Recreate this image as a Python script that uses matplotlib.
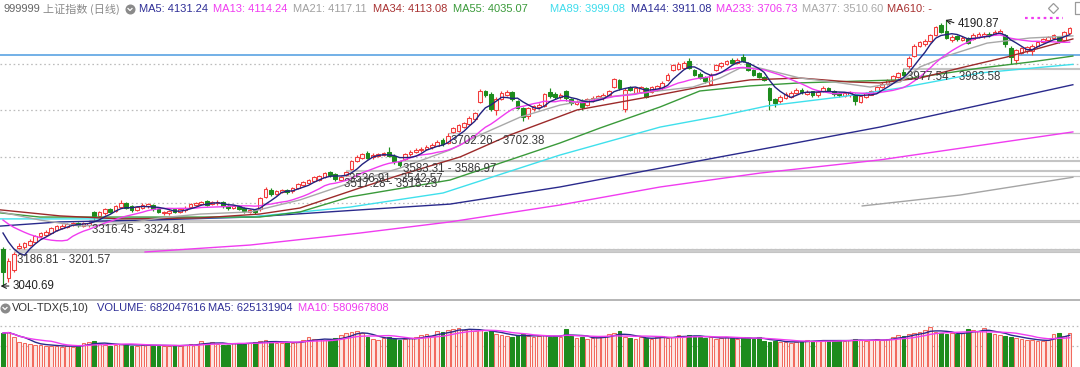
import matplotlib
matplotlib.use("Agg")
import matplotlib.pyplot as plt
from matplotlib.lines import Line2D
import numpy as np
import pandas as pd

plt.rcParams['font.family'] = ['Liberation Sans', 'Noto Sans CJK SC', 'DejaVu Sans']

# ---------------- data ----------------
opens = [
    3200, 3075, 3110, 3205, 3208, 3218, 3232, 3255, 3262, 3272,
    3285, 3292, 3298, 3305, 3312, 3300, 3305, 3360, 3345, 3355,
    3372, 3365, 3382, 3398, 3385, 3370, 3380, 3388, 3392, 3372,
    3355, 3358, 3372, 3362, 3368, 3382, 3392, 3395, 3408, 3395,
    3398, 3405, 3388, 3378, 3385, 3378, 3362, 3370, 3372, 3425,
    3458, 3440, 3448, 3458, 3450, 3465, 3478, 3485, 3495, 3500,
    3512, 3535, 3525, 3500, 3522, 3548, 3580, 3596, 3615, 3598,
    3605, 3608, 3620, 3605, 3580, 3590, 3610, 3620, 3628, 3632,
    3640, 3648, 3672, 3660, 3705, 3712, 3730, 3740, 3765, 3835,
    3882, 3872, 3800, 3850, 3868, 3880, 3840, 3812, 3775, 3805,
    3815, 3820, 3880, 3870, 3858, 3885, 3848, 3828, 3842, 3825,
    3840, 3850, 3852, 3865, 3900, 3930, 3805, 3900, 3875, 3880,
    3895, 3880, 3888, 3895, 3930, 3975, 3980, 3985, 4015, 3975,
    3958, 3945, 3915, 3975, 3990, 4000, 4020, 4005, 4030, 4005,
    3975, 3960, 3945, 3895, 3848, 3840, 3855, 3860, 3875, 3890,
    3870, 3882, 3865, 3882, 3895, 3885, 3875, 3862, 3865, 3872,
    3835, 3860, 3868, 3885, 3902, 3915, 3930, 3945, 3968, 3990,
    4035, 4080, 4085, 4100, 4125, 4168, 4145, 4105, 4120, 4105,
    4112, 4110, 4118, 4120, 4132, 4130, 4135, 4125, 4070, 4020,
    4050, 4058, 4055, 4078, 4095, 4105, 4112, 4118, 4105, 4135,
]
closes = [
    3100, 3150, 3180, 3215, 3225, 3235, 3258, 3270, 3275, 3290,
    3300, 3302, 3310, 3315, 3305, 3312, 3314, 3345, 3360, 3372,
    3362, 3385, 3398, 3380, 3370, 3383, 3392, 3395, 3372, 3362,
    3362, 3365, 3362, 3372, 3380, 3395, 3400, 3405, 3392, 3402,
    3405, 3385, 3378, 3385, 3375, 3365, 3370, 3360, 3420, 3460,
    3440, 3452, 3455, 3448, 3465, 3480, 3490, 3498, 3512, 3518,
    3528, 3520, 3505, 3512, 3532, 3580, 3600, 3610, 3595, 3608,
    3612, 3618, 3605, 3580, 3565, 3612, 3622, 3630, 3635, 3642,
    3652, 3665, 3655, 3690, 3725, 3735, 3745, 3768, 3790, 3885,
    3868, 3805, 3850, 3875, 3880, 3848, 3812, 3770, 3810, 3820,
    3825, 3870, 3862, 3858, 3868, 3855, 3832, 3838, 3815, 3848,
    3855, 3862, 3868, 3885, 3935, 3895, 3890, 3890, 3895, 3900,
    3860, 3900, 3905, 3920, 3955, 3995, 4000, 4005, 3985, 3955,
    3940, 3925, 3955, 3995, 4005, 4012, 4005, 4018, 4015, 3975,
    3955, 3945, 3932, 3845, 3830, 3860, 3870, 3875, 3890, 3880,
    3880, 3868, 3880, 3898, 3885, 3870, 3865, 3875, 3878, 3840,
    3862, 3875, 3882, 3900, 3915, 3930, 3948, 3960, 3955, 4025,
    4080, 4095, 4100, 4125, 4160, 4140, 4115, 4118, 4108, 4115,
    4090, 4125, 4130, 4130, 4125, 4140, 4145, 4085, 4030, 4060,
    4068, 4072, 4080, 4095, 4110, 4118, 4125, 4098, 4140, 4155,
]
highs = [
    3210, 3160, 3186.81, 3228, 3232, 3242, 3262, 3276, 3282, 3295,
    3306, 3310, 3315, 3316, 3316, 3316, 3316.45, 3366, 3365, 3378,
    3380, 3390, 3412, 3405, 3390, 3388, 3398, 3400, 3396, 3378,
    3366, 3370, 3378, 3378, 3386, 3400, 3405, 3410, 3412, 3410,
    3412, 3408, 3392, 3390, 3390, 3382, 3375, 3375, 3425, 3468,
    3465, 3458, 3462, 3462, 3470, 3485, 3495, 3505, 3518, 3522,
    3535, 3540, 3530, 3517.28, 3536.91, 3585, 3606, 3618, 3625, 3614,
    3618, 3622, 3640, 3610, 3583.31, 3616, 3628, 3638, 3642, 3650,
    3658, 3672, 3680, 3702.26, 3730, 3740, 3752, 3775, 3795, 3892,
    3890, 3880, 3858, 3882, 3888, 3885, 3845, 3815, 3815, 3825,
    3832, 3875, 3895, 3878, 3875, 3890, 3852, 3845, 3848, 3855,
    3862, 3868, 3875, 3890, 3940, 3935, 3895, 3905, 3900, 3905,
    3902, 3905, 3912, 3925, 3960, 4002, 4008, 4012, 4025, 3980,
    3965, 3950, 3960, 4000, 4010, 4018, 4025, 4025, 4045, 4010,
    3980, 3965, 3950, 3900, 3852, 3865, 3878, 3882, 3895, 3895,
    3888, 3886, 3885, 3905, 3900, 3890, 3880, 3880, 3882, 3875,
    3868, 3880, 3888, 3905, 3922, 3935, 3955, 3968, 3977.54, 4035,
    4085, 4100, 4108, 4130, 4165, 4180, 4190.87, 4125, 4125, 4120,
    4118, 4135, 4138, 4138, 4138, 4148, 4150, 4130, 4078, 4066,
    4072, 4078, 4085, 4100, 4115, 4122, 4130, 4122, 4145, 4162,
]
lows = [
    3040.69, 3060, 3100, 3201.57, 3203, 3212, 3228, 3250, 3258, 3268,
    3280, 3288, 3292, 3300, 3298, 3295, 3298, 3324.81, 3338, 3350,
    3355, 3360, 3378, 3375, 3362, 3366, 3375, 3380, 3366, 3355,
    3348, 3350, 3355, 3358, 3362, 3378, 3388, 3390, 3385, 3390,
    3392, 3378, 3370, 3372, 3368, 3358, 3355, 3352, 3365, 3420,
    3432, 3435, 3442, 3440, 3445, 3460, 3472, 3480, 3490, 3495,
    3508, 3512, 3495, 3495, 3518.23, 3542.57, 3575, 3590, 3590, 3592,
    3600, 3602, 3600, 3570, 3555, 3586.97, 3605, 3615, 3622, 3628,
    3635, 3645, 3648, 3655, 3702.38, 3708, 3725, 3735, 3758, 3830,
    3860, 3798, 3780, 3845, 3862, 3842, 3805, 3755, 3765, 3798,
    3808, 3815, 3855, 3850, 3850, 3840, 3825, 3822, 3800, 3820,
    3835, 3845, 3845, 3860, 3895, 3890, 3795, 3882, 3870, 3875,
    3855, 3875, 3882, 3890, 3925, 3970, 3975, 3980, 3980, 3950,
    3935, 3918, 3910, 3970, 3985, 3995, 4000, 4000, 4010, 3970,
    3950, 3940, 3925, 3800, 3815, 3832, 3850, 3855, 3870, 3872,
    3865, 3860, 3860, 3878, 3880, 3862, 3860, 3858, 3860, 3825,
    3830, 3855, 3865, 3880, 3898, 3910, 3925, 3940, 3950, 3983.58,
    4030, 4075, 4080, 4095, 4120, 4135, 4110, 4095, 4100, 4098,
    4085, 4105, 4112, 4115, 4118, 4125, 4130, 4075, 4000, 4005,
    4042, 4050, 4040, 4072, 4090, 4100, 4108, 4092, 4100, 4130,
]
# closes of the 12 sessions before the visible window (for MA5 / MA13)
prior_closes = [3370, 3365, 3360, 3362, 3358, 3355, 3360, 3358, 3340, 3330, 3310, 3270]

volume_m = [
    680, 700, 600, 500, 480, 460, 450, 440, 420, 430,
    420, 410, 420, 410, 420, 480, 500, 520, 460, 440,
    430, 450, 470, 440, 430, 420, 440, 450, 430, 420,
    430, 420, 440, 430, 450, 460, 440, 520, 480, 500,
    470, 440, 450, 480, 490, 470, 480, 500, 520, 540,
    500, 490, 480, 500, 490, 500, 540, 600, 560, 560,
    540, 520, 580, 640, 680, 700, 720, 680, 600, 560,
    540, 580, 600, 560, 540, 560, 580, 600, 640, 660,
    620, 720, 700, 740, 760, 780, 740, 760, 720, 740,
    700, 720, 660, 640, 620, 600, 640, 660, 620, 600,
    620, 640, 610, 620, 600, 760, 620, 580, 600, 560,
    580, 600, 620, 660, 680, 720, 600, 580, 560, 600,
    580, 560, 600, 620, 580, 600, 640, 620, 640, 620,
    600, 580, 600, 560, 580, 600, 580, 560, 600, 580,
    560, 600, 520, 500, 520, 510, 500, 490, 500, 520,
    540, 520, 530, 540, 520, 530, 540, 520, 540, 560,
    540, 520, 540, 560, 540, 560, 600, 640, 620, 660,
    680, 700, 740, 800, 700, 680, 660, 680, 660, 680,
    760, 740, 720, 780, 680, 660, 640, 620, 600, 580,
    560, 540, 540, 520, 530, 540, 660, 680, 620, 682,
]

# long moving averages (bar index, value)
ma21_x = [-0.5, 6.9, 14.4, 21.8, 29.3, 36.8, 46.1, 55.4, 64.7, 74.1, 83.4, 89.0, 96.5, 103.9, 111.4,
          118.8, 128.7, 133.8, 137.5, 141.2, 148.7, 154.9, 161.8, 167.4, 171.1, 176.7, 183.6, 191.6, 199.6]
ma21_v = [3361, 3326, 3300, 3309, 3335, 3352, 3361, 3413, 3486, 3551, 3629, 3694, 3771, 3823, 3854,
          3875, 3901, 3940, 3983, 3983, 3940, 3923, 3901, 3923, 3988, 4040, 4091, 4113, 4122]
ma34_x = [-0.5, 10.6, 21.8, 36.8, 47.9, 55.4, 66.6, 74.1, 85.3, 94.6, 107.1, 119.4, 130.0, 139.4,
          148.7, 158.0, 163.6, 171.1, 178.5, 187.3, 193.5, 199.6]
ma34_v = [3370, 3344, 3331, 3335, 3352, 3378, 3465, 3521, 3599, 3694, 3802, 3854, 3901, 3932,
          3940, 3923, 3919, 3940, 3983, 4031, 4070, 4109]
ma55_x = [-0.5, 6.9, 27.4, 47.9, 55.4, 64.7, 83.4, 103.9, 111.4, 122.6, 130.0, 139.4, 148.7, 159.9,
          167.4, 182.3, 191.6, 199.6]
ma55_v = [3357, 3339, 3339, 3339, 3361, 3426, 3499, 3659, 3724, 3815, 3884, 3906, 3919, 3927,
          3932, 3983, 4009, 4035]
ma89_x = [-0.5, 18.1, 46.1, 64.7, 82.1, 103.9, 122.6, 133.8, 142.5, 156.2, 167.4, 182.3, 199.6]
ma89_v = [3331, 3331, 3339, 3382, 3443, 3607, 3728, 3776, 3819, 3858, 3897, 3962, 3999]
ma144_x = [-0.5, 10.6, 27.4, 46.1, 66.6, 83.4, 103.9, 118.8, 133.8, 148.7, 163.6, 182.3, 199.6]
ma144_v = [3300, 3318, 3326, 3339, 3370, 3395, 3469, 3534, 3599, 3663, 3728, 3823, 3911]
ma233_x = [26.5, 46.1, 66.6, 83.4, 103.9, 122.6, 141.2, 163.6, 199.6]
ma233_v = [3188, 3218, 3270, 3318, 3391, 3469, 3529, 3586, 3707]
ma377_x = [160.3, 178.5, 199.6]
ma377_v = [3387, 3434, 3511]

# unfilled price gaps: (bar where gap opens, lower, upper)
gap_bar = [3, 17, 64, 65, 75, 84, 169]
gap_lo = [3186.81, 3316.45, 3517.28, 3536.91, 3583.31, 3702.26, 3977.54]
gap_hi = [3201.57, 3324.81, 3518.23, 3542.57, 3586.97, 3702.38, 3983.58]

hi_bar, hi_val = 176, 4190.87
lo_bar, lo_val = 0, 3040.69
ref_level = 4039.5

title_items = [("MA5: 4131.24", "#2e2e96"), ("MA13: 4114.24", "#f03cf0"), ("MA21: 4117.11", "#a0a0a0"),
               ("MA34: 4113.08", "#a83232"), ("MA55: 4035.07", "#3a9a3a"), ("MA89: 3999.08", "#3fdcec"),
               ("MA144: 3911.08", "#2e2e96"), ("MA233: 3706.73", "#f03cf0"), ("MA377: 3510.60", "#a8a8a8"),
               ("MA610: -", "#a83232")]
title_x = [139, 213, 293, 373, 453, 550, 631, 716, 802, 887]

# ---------------- figure ----------------
W, H = 1080, 367
fig = plt.figure(figsize=(W / 100, H / 100), dpi=100, facecolor="white")
ax = fig.add_axes([0, 67 / H, 1, 300 / H])
axv = fig.add_axes([0, 0, 1, 67 / H])

n = len(closes)
idx = np.arange(n)
bar_px, x0_px = 5.36, 3.0
for a in (ax, axv):
    a.set_xlim(-x0_px / bar_px, (W - x0_px) / bar_px)
    a.set_xticks([])
    a.set_yticks([])
    for s in a.spines.values():
        s.set_visible(False)
ax.set_ylim(2980.4, 4277.3)
axv.set_ylim(0, 1344)

RED = "#f23c3c"
GREEN = "#1d8c1d"
o = np.array(opens, float)
c = np.array(closes, float)
h = np.array(highs, float)
l = np.array(lows, float)
up = c >= o
col = np.where(up, RED, GREEN)
face = np.where(up, "#fff4f4", GREEN)
b_lo = np.minimum(o, c)
b_hi = np.maximum(o, c)

# grid
dots = (0, (1.3, 2.2))
for p in [3200, 3400, 3600, 3800, 4000]:
    ax.axhline(p, color="#bcbcbc", lw=0.9, ls=dots, zorder=0)
for v in [421, 822]:
    axv.axhline(v, color="#bcbcbc", lw=0.9, ls=dots, zorder=0)

# gap bands
xr = (W - x0_px) / bar_px
for gb, lo, hi in zip(gap_bar, gap_lo, gap_hi):
    ax.fill_between([gb - 1, xr], lo, hi, color="#cdcdcd", lw=0, zorder=1)
    ax.hlines([lo, hi], gb - 1, xr, color="#c4c4c4", lw=0.8, zorder=1)
    ax.annotate(f"{lo:.2f} - {hi:.2f}", xy=(gb, lo), xytext=(-2, -8), textcoords="offset pixels",
                ha="left", va="center", fontsize=8.3, color="#3a3a3a", zorder=6)

ax.axhline(ref_level, color="#4b9be0", lw=1.1, zorder=2)

# candles
ax.vlines(idx, b_hi, h, colors=col, lw=0.85, zorder=3)
ax.vlines(idx, l, b_lo, colors=col, lw=0.85, zorder=3)
ax.bar(idx, np.maximum(b_hi - b_lo, 1.2), bottom=b_lo, width=0.68, color=face, edgecolor=col,
       linewidth=0.75, zorder=3)

# moving averages
allc = pd.Series(prior_closes + closes, dtype=float)
k = len(prior_closes)
ma5 = allc.rolling(5).mean().to_numpy()[k:]
ma13 = allc.rolling(13).mean().to_numpy()[k:]
ax.plot(ma377_x, ma377_v, color="#a5a5a5", lw=1.0, zorder=4)
ax.plot(ma233_x, ma233_v, color="#f03cf0", lw=1.0, zorder=4)
ax.plot(ma144_x, ma144_v, color="#2a2a8c", lw=1.0, zorder=4)
ax.plot(ma89_x, ma89_v, color="#3fe0ec", lw=1.0, zorder=4)
ax.plot(ma55_x, ma55_v, color="#3a9a3a", lw=1.0, zorder=4)
ax.plot(ma34_x, ma34_v, color="#9c2a2a", lw=1.0, zorder=4)
ax.plot(ma21_x, ma21_v, color="#a8a8a8", lw=1.0, zorder=4)
ax.plot(idx, ma13, color="#f03cf0", lw=1.0, zorder=4)
ax.plot(idx, ma5, color="#22227e", lw=1.0, zorder=4)

# extreme annotations
ax.annotate(f"{hi_val:.2f}", xy=(hi_bar - 0.2, hi_val), xytext=(958, H - 24), textcoords="figure pixels",
            ha="left", va="center", fontsize=8.3, color="#222222", zorder=6,
            arrowprops=dict(arrowstyle="->", color="#222222", lw=0.8, shrinkA=1, shrinkB=0,
                            relpos=(0, 0.5)))
ax.annotate(f"{lo_val:.2f}", xy=(lo_bar - 0.45, lo_val), xytext=(13, H - 286), textcoords="figure pixels",
            ha="left", va="center", fontsize=8.3, color="#222222", zorder=6,
            arrowprops=dict(arrowstyle="->", color="#222222", lw=0.8, shrinkA=1, shrinkB=0,
                            relpos=(0, 0.5)))

# volume
vol = np.array(volume_m, float)
axv.bar(idx, vol, width=0.68, color=np.where(up, "#fde6e3", GREEN),
        edgecolor=np.where(up, "#f26a5e", GREEN), linewidth=0.75, zorder=2)
vs = pd.Series(vol)
axv.plot(idx, vs.rolling(5, min_periods=1).mean(), color="#2a2a8c", lw=1.0, zorder=3)
axv.plot(idx, vs.rolling(10, min_periods=1).mean(), color="#f03cf0", lw=1.0, zorder=3)

# separator between panels
fig.add_artist(Line2D([0, 1], [1 - 300 / H, 1 - 300 / H], color="#a9a9a9", lw=1.2,
                      transform=fig.transFigure))


def ftext(x, y, s, color, **kw):
    fig.text(x / W, 1 - y / H, s, color=color, fontsize=8, ha="left", va="center", **kw)


def icon(x, y):
    fig.add_artist(Line2D([x / W], [1 - y / H], marker="o", markersize=6.2, color="#8a8a8a",
                          transform=fig.transFigure))
    fig.add_artist(Line2D([(x - 2) / W, x / W, (x + 2) / W],
                          [1 - (y - 0.5) / H, 1 - (y + 1.5) / H, 1 - (y - 0.5) / H],
                          color="white", lw=0.9, transform=fig.transFigure))


ftext(3, 9, "999999", "#666666")
ftext(43, 9, "上证指数 (日线)", "#8a8a8a", family=["Noto Sans CJK SC", "Liberation Sans"])
icon(130, 9)
for (s, cl), xx in zip(title_items, title_x):
    ftext(xx, 9, s, cl)

# top-right decorations
fig.add_artist(Line2D([1053 / W], [1 - 8 / H], marker="D", markersize=5.5, markerfacecolor="none",
                      markeredgecolor="#9a9a9a", markeredgewidth=0.9, transform=fig.transFigure))
fig.add_artist(Line2D([1083 / W, 1075 / W, 1075 / W, 1083 / W], [1 - 2 / H, 1 - 2 / H, 1 - 14 / H, 1 - 14 / H],
                      color="#9a9a9a", lw=0.9, transform=fig.transFigure))
fig.add_artist(Line2D([1025 / W, 1063 / W], [1 - 18 / H, 1 - 18 / H], color="#f03cf0", lw=1.6,
                      ls=(0, (1.2, 1.6)), transform=fig.transFigure))

# volume panel header
icon(5, 308)
ftext(12, 308, "VOL-TDX(5,10)", "#333333")
ftext(97, 308, "VOLUME: 682047616", "#2e2e96")
ftext(208, 308, "MA5: 625131904", "#2e2e96")
ftext(298, 308, "MA10: 580967808", "#f03cf0")

fig.savefig("out.png", dpi=100, facecolor="white")
